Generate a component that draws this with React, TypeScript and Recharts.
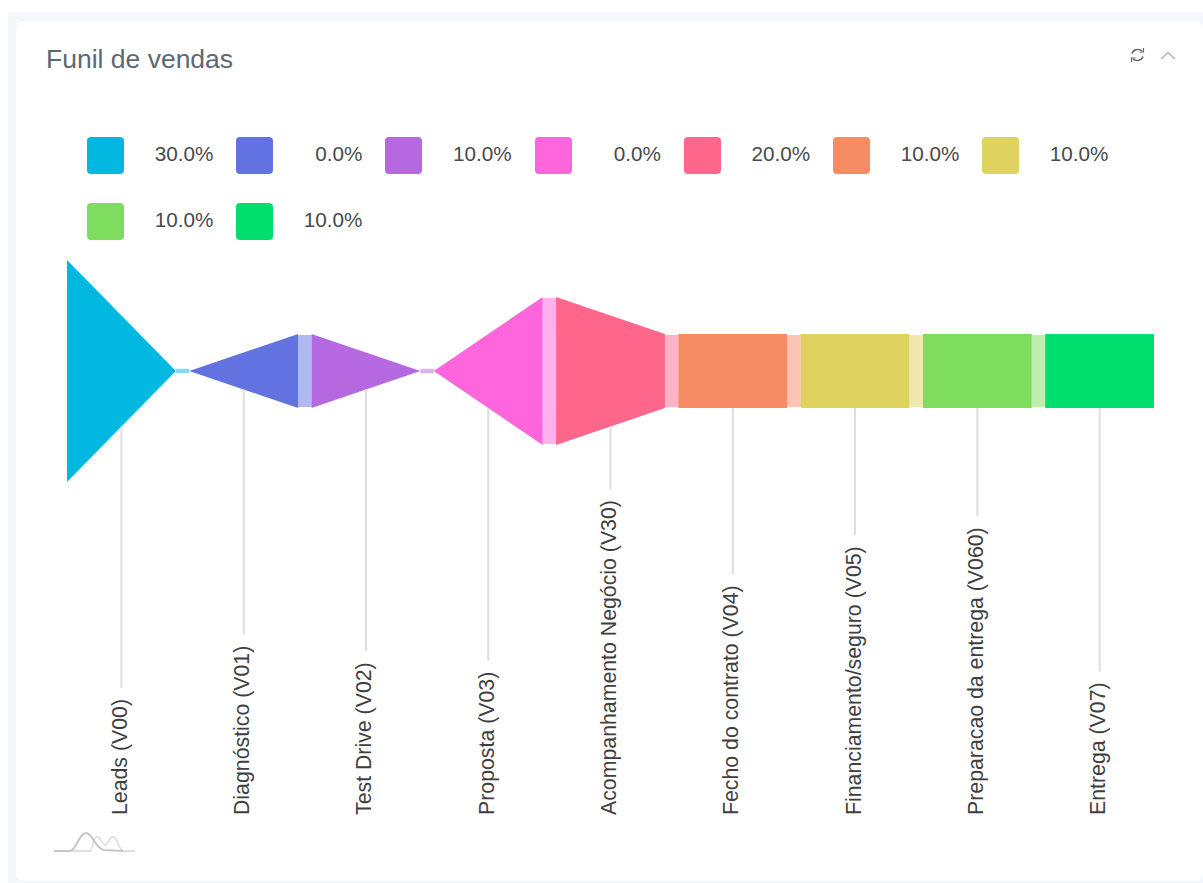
import { Area, ComposedChart, XAxis, YAxis } from "recharts";

const stages = [
  "Leads (V00)",
  "Diagnóstico (V01)",
  "Test Drive (V02)",
  "Proposta (V03)",
  "Acompanhamento Negócio (V30)",
  "Fecho do contrato (V04)",
  "Financiamento/seguro (V05)",
  "Preparacao da entrega (V060)",
  "Entrega (V07)",
];
const percents = [30, 0, 10, 0, 20, 10, 10, 10, 10];
const colors = ["#00b8e0", "#6272e0", "#b668e0", "#ff66dd", "#ff668c", "#f58c63", "#e0d25f", "#7edd5e", "#00de6e"];

const FONT = '"Liberation Sans", Arial, sans-serif';
const LABEL_SIZE = 21.3;

// each stage takes one unit on the x axis, part of it is the gap to the next one
const SEGMENT = 0.89;
const Y_MIN = -120;
const Y_MAX = 30;
const PLOT_TOP = 260;
const PLOT_BOTTOM = 815;
const PX_PER_UNIT = (PLOT_BOTTOM - PLOT_TOP) / (Y_MAX - Y_MIN);

const nextValue = (i: number) => percents[i + 1] ?? percents[i];

const segmentData = (i: number) => [
  { x: i, band: [-percents[i], percents[i]] },
  { x: i + SEGMENT, band: [-nextValue(i), nextValue(i)] },
];

// connector between two stages, slightly thinner than the stage edges
const connectorData = (i: number) => {
  const half = Math.max(nextValue(i) - 0.3, 0.6);
  return [
    { x: i + SEGMENT, band: [-half, half] },
    { x: i + 1, band: [-half, half] },
  ];
};

const tickPositions = stages.map((_, i) => i + SEGMENT / 2);

let measureCtx: CanvasRenderingContext2D | null = null;
const textWidth = (text: string) => {
  if (!measureCtx) measureCtx = document.createElement("canvas").getContext("2d");
  measureCtx!.font = `${LABEL_SIZE}px "Liberation Sans"`;
  return measureCtx!.measureText(text).width;
};

function StageTick({ x, y, index }: any) {
  const label = stages[index];
  if (!label) return null;
  const edge = (percents[index] + nextValue(index)) / 2;
  const lineTop = y - (-Y_MIN - edge) * PX_PER_UNIT;
  const lineBottom = y - textWidth(label) - 11;
  return (
    <g>
      <line x1={x} x2={x} y1={lineTop} y2={lineBottom} stroke="#dedede" strokeWidth={2} />
      <text
        x={x + 5.5}
        y={y}
        transform={`rotate(-90 ${x + 5.5} ${y})`}
        fontFamily={FONT}
        fontSize={LABEL_SIZE}
        fill="#3f3f3f"
      >
        {label}
      </text>
    </g>
  );
}

function LegendGrid() {
  return (
    <>
      {percents.map((p, i) => {
        const col = i % 7;
        const row = Math.floor(i / 7);
        const left = 87 + col * 149.2;
        const top = 137 + row * 66;
        return (
          <div key={stages[i]}>
            <div
              style={{
                position: "absolute",
                left,
                top,
                width: 37,
                height: 37,
                borderRadius: 4,
                background: colors[i],
              }}
            />
            <div
              style={{
                position: "absolute",
                left,
                top: top + 4,
                width: 126.3,
                textAlign: "right",
                font: `20.7px ${FONT}`,
                lineHeight: "26px",
                color: "#4a4a4a",
              }}
            >
              {p.toFixed(1)}%
            </div>
          </div>
        );
      })}
    </>
  );
}

export default function App() {
  return (
    <div style={{ position: "absolute", left: 0, top: 0, width: 1203, height: 883, overflow: "hidden", background: "#fff" }}>
      <div style={{ position: "absolute", left: 8, top: 12, width: 1195, height: 871, background: "#f4f8fc" }} />
      <div
        style={{
          position: "absolute",
          left: 16,
          top: 21,
          width: 1187,
          height: 860,
          background: "#fff",
          borderRadius: 8,
        }}
      />
      <div style={{ position: "absolute", left: 46, top: 42, font: `26.5px ${FONT}`, lineHeight: "34px", color: "#5c6873" }}>
        Funil de vendas
      </div>

      <svg style={{ position: "absolute", left: 1128, top: 44 }} width="52" height="22" fill="none">
        <path d="M4 9.5a6 5 0 0 1 10-2.5M15 12.5a6 5 0 0 1-10 2.5" stroke="#666" strokeWidth="1.5" />
        <path d="M15.5 4v4h-4M3.5 18v-4h4" stroke="#666" strokeWidth="1.2" />
        <path d="M33 15l7-6.5 7 6.5" stroke="#b4b8bc" strokeWidth="1.6" />
      </svg>

      <LegendGrid />

      <div style={{ position: "absolute", left: 0, top: 0 }}>
        <ComposedChart
          width={1203}
          height={883}
          margin={{ top: PLOT_TOP, right: 49, bottom: 883 - PLOT_BOTTOM - 1, left: 67 }}
        >
          <XAxis
            type="number"
            dataKey="x"
            domain={[0, stages.length - 1 + SEGMENT]}
            ticks={tickPositions}
            interval={0}
            height={1}
            axisLine={false}
            tickLine={false}
            tickSize={0}
            tickMargin={0}
            tick={<StageTick />}
          />
          <YAxis hide type="number" domain={[Y_MIN, Y_MAX]} allowDataOverflow />
          {stages.map((name, i) => (
            <Area
              key={name}
              data={segmentData(i)}
              dataKey="band"
              type="linear"
              fill={colors[i]}
              fillOpacity={1}
              stroke="none"
              dot={false}
              activeDot={false}
              isAnimationActive={false}
            />
          ))}
          {stages.slice(0, -1).map((name, i) => (
            <Area
              key={`${name}-link`}
              data={connectorData(i)}
              dataKey="band"
              type="linear"
              fill={colors[i]}
              fillOpacity={0.5}
              stroke="none"
              dot={false}
              activeDot={false}
              isAnimationActive={false}
            />
          ))}
        </ComposedChart>
      </div>

      {/* small brand mark in the corner */}
      <svg style={{ position: "absolute", left: 52, top: 830 }} width="86" height="26" fill="none">
        <path d="M18 21H38C41 21 40 7 45 7C49 7 50 15 53 15C56 15 57 7 61 7C66 7 66 21 72 21H83" stroke="#e0e0e0" strokeWidth="1.8" />
        <path d="M2 21H18C24 21 27 3 34 3C41 3 43 19 52 20L71 21" stroke="#c6c6c6" strokeWidth="2" />
      </svg>
    </div>
  );
}
